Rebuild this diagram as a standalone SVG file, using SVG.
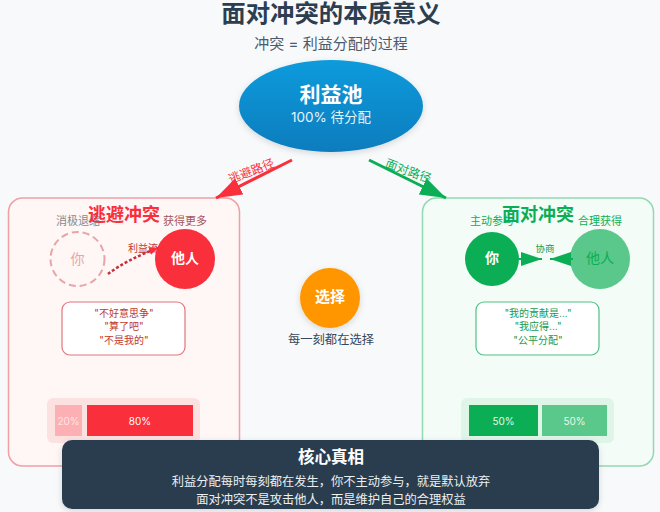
<svg xmlns="http://www.w3.org/2000/svg" width="660" height="512" viewBox="0 0 660 512">
<style>
text{font-family:"Inter","Noto Sans CJK SC",sans-serif;text-anchor:middle}
.panel{stroke-width:1.5}
.quote{fill:#fff;stroke-width:1.2}
.lbl{font-size:11px}
.q{font-size:10px}
.core{font-size:12.25px;fill:#ecf0f1}
</style>
<defs>
<linearGradient id="pool" x1="0" y1="0" x2="0" y2="1"><stop offset="0" stop-color="#0a9bdc"/><stop offset="1" stop-color="#0a7cbd"/></linearGradient>
<filter id="sh" x="-20%" y="-20%" width="140%" height="150%"><feDropShadow dx="0" dy="2" stdDeviation="3" flood-color="#000" flood-opacity=".14"/></filter>
<marker id="ar" markerUnits="userSpaceOnUse" markerWidth="27" markerHeight="18" refX="26" refY="9" orient="auto"><path d="M0 0L26 9L0 18Z" fill="#f92f3b"/></marker>
<marker id="ag" markerUnits="userSpaceOnUse" markerWidth="27" markerHeight="18" refX="26" refY="9" orient="auto"><path d="M0 0L26 9L0 18Z" fill="#0bae54"/></marker>
<marker id="sg" markerUnits="userSpaceOnUse" markerWidth="22" markerHeight="14" refX="21" refY="7" orient="auto"><path d="M0 0L21 7L0 14Z" fill="#0bae54"/></marker>
<marker id="dr" markerUnits="userSpaceOnUse" markerWidth="10" markerHeight="8" refX="9" refY="4" orient="auto"><path d="M0 0L9 4L0 8Z" fill="#f92f3b"/></marker>
</defs>
<rect width="660" height="512" fill="#f8f9fb"/>
<g id="title">
<text x="331" y="22" font-size="24.4" font-weight="700" fill="#2c3e50">面对冲突的本质意义</text>
<text x="331" y="49" font-size="15" fill="#4a5b6c">冲突 = 利益分配的过程</text>
</g>
<g id="pool-node">
<ellipse cx="331" cy="106" rx="92" ry="46" fill="url(#pool)" filter="url(#sh)"/>
<text x="331" y="102" font-size="21" font-weight="700" fill="#fff">利益池</text>
<text x="331" y="122" font-size="13.5" fill="#e8f4fb">100% 待分配</text>
</g>
<g id="escape-panel">
<rect class="panel" x="8.5" y="198" width="231" height="268" rx="14" fill="#fff6f6" stroke="#f0a0a5"/>
<text class="lbl" x="78" y="225" fill="#7f8c8d">消极退缩</text>
<text class="lbl" x="185" y="225" fill="#a5565a">获得更多</text>
<text x="124" y="221" font-size="18" font-weight="700" fill="#f92f3b">逃避冲突</text>
</g>
<g id="escape-you">
<circle cx="77.5" cy="259" r="27" fill="#fff6f6" fill-opacity=".6" stroke="#e8a5a8" stroke-width="2" stroke-dasharray="7 4"/>
<text x="77.5" y="264" font-size="14" fill="#e8a5a8">你</text>
</g>
<g id="escape-other">
<text x="143" y="252" style="font-size:10px" fill="#c0392b">利益流</text>
<circle cx="185" cy="259" r="30" fill="#f92f3b"/>
<text x="185" y="263" font-size="14" font-weight="700" fill="#fff">他人</text>
</g>
<g id="escape-quote">
<rect class="quote" x="62" y="302" width="123" height="53" rx="8" stroke="#e0777d"/>
<text class="q" x="124" y="317" fill="#c0392b">"不好意思争"</text>
<text class="q" x="124" y="330" fill="#c0392b">"算了吧"</text>
<text class="q" x="124" y="344" fill="#c0392b">"不是我的"</text>
</g>
<g id="escape-bar">
<rect x="47" y="398" width="153" height="45" rx="6" fill="#fce1e1"/>
<rect x="55" y="405" width="27" height="31" fill="#fdb0b3"/>
<text x="68.5" y="425" font-size="10" fill="#ffe3e4">20%</text>
<rect x="87" y="405" width="106" height="31" fill="#f92f3b"/>
<text x="140" y="425" font-size="10" fill="#fff">80%</text>
</g>
<g id="face-panel">
<rect class="panel" x="422.5" y="198" width="231" height="268" rx="14" fill="#f4fcf8" stroke="#90d9b2"/>
<text class="lbl" x="492" y="225" fill="#0bae54">主动参与</text>
<text class="lbl" x="600" y="225" fill="#0bae54">合理获得</text>
<text x="538" y="221" font-size="18" font-weight="700" fill="#0bae54">面对冲突</text>
</g>
<g id="face-you">
<circle cx="492" cy="259" r="27" fill="#0bae54"/>
<text x="492" y="263" font-size="14" font-weight="700" fill="#fff">你</text>
</g>
<g id="face-other">
<circle cx="600" cy="259" r="30" fill="#59c88a"/>
<text x="600" y="263" font-size="14" fill="#0bae54">他人</text>
</g>
<g id="face-quote">
<rect class="quote" x="476" y="302" width="123" height="53" rx="8" stroke="#4fc183"/>
<text class="q" x="538" y="317" fill="#169b52">"我的贡献是..."</text>
<text class="q" x="538" y="330" fill="#169b52">"我应得..."</text>
<text class="q" x="538" y="344" fill="#169b52">"公平分配"</text>
</g>
<g id="face-bar">
<rect x="461" y="398" width="153" height="45" rx="6" fill="#dff5e8"/>
<rect x="469" y="405" width="69" height="31" fill="#0bae54"/>
<text x="503.5" y="425" font-size="10" fill="#e8f8ef">50%</text>
<rect x="542" y="405" width="65" height="31" fill="#59c88a"/>
<text x="574.5" y="425" font-size="10" fill="#e8f8ef">50%</text>
</g>
<g id="connectors" fill="none">
<path d="M292 160L216 198" stroke="#f92f3b" stroke-width="3" marker-end="url(#ar)"/>
<path d="M369 160L446 198" stroke="#0bae54" stroke-width="3" marker-end="url(#ag)"/>
<path d="M108 274Q128 259 158 248" stroke="#c62f3c" stroke-width="2.5" stroke-dasharray="3 2" marker-end="url(#dr)"/>
<path d="M519 259L542 259" stroke="#0bae54" stroke-width="2" marker-end="url(#sg)"/>
<path d="M573 259L550 259" stroke="#0bae54" stroke-width="2" marker-end="url(#sg)"/>
</g>
<g id="connector-labels">
<text x="253" y="175" font-size="12" fill="#f92f3b" transform="rotate(-21 253 175)">逃避路径</text>
<text x="407" y="175" font-size="12" fill="#0bae54" transform="rotate(20 407 175)">面对路径</text>
<text x="545" y="251.5" font-size="9.5" fill="#169b52">协商</text>
</g>
<g id="choice">
<circle cx="330" cy="298" r="30" fill="#ff9606" filter="url(#sh)"/>
<text x="330" y="302" font-size="15" font-weight="700" fill="#fff">选择</text>
<text x="331" y="344" font-size="12.3" fill="#34495e">每一刻都在选择</text>
</g>
<g id="core-truth">
<rect x="62" y="440" width="537" height="69" rx="10" fill="#2c3e50" filter="url(#sh)"/>
<text x="331" y="463" font-size="16.5" font-weight="700" fill="#fff">核心真相</text>
<text class="core" x="331" y="486">利益分配每时每刻都在发生，你不主动参与，就是默认放弃</text>
<text class="core" x="331" y="504">面对冲突不是攻击他人，而是维护自己的合理权益</text>
</g>
</svg>
